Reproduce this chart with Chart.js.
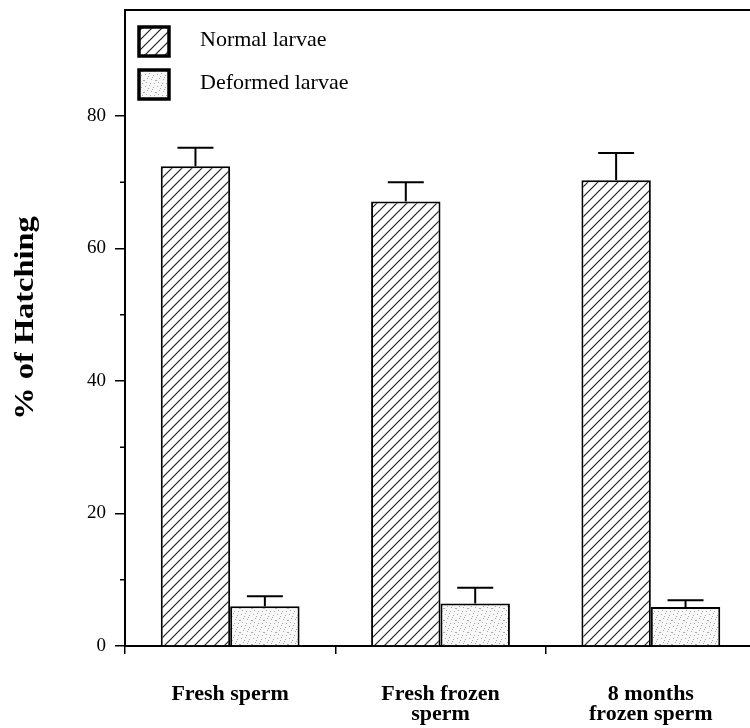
<!DOCTYPE html>
<html>
<head>
<meta charset="utf-8">
<script src="https://cdn.jsdelivr.net/npm/chart.js@4.4.1/dist/chart.umd.min.js"></script>
<style>
  html, body { margin: 0; padding: 0; background: #fff; overflow: hidden; }
  #wrap { width: 757px; height: 728px; }
</style>
</head>
<body>
<div id="wrap"><canvas id="hatchChart"></canvas></div>
<script>
// data
const categories = ['Fresh sperm', ['Fresh frozen', 'sperm'], ['8 months', 'frozen sperm']];
const normalLarvae = [72.4, 67.1, 70.3];
const normalErr = [2.8, 2.9, 4.1];
const deformedLarvae = [6.0, 6.4, 5.9];
const deformedErr = [1.5, 2.4, 1.0];
const yTicks = [0, 20, 40, 60, 80];
const yMinorTicks = [10, 30, 50, 70];
const yTitle = '% of Hatching';

// hatch pattern for normal larvae
function hatchPattern() {
  const c = document.createElement('canvas');
  c.width = 10; c.height = 10;
  const g = c.getContext('2d');
  g.fillStyle = '#fff';
  g.fillRect(0, 0, 10, 10);
  g.strokeStyle = '#222';
  g.lineWidth = 1.2;
  g.beginPath();
  g.moveTo(-2, 12); g.lineTo(12, -2);
  g.moveTo(-2, 2); g.lineTo(2, -2);
  g.moveTo(8, 12); g.lineTo(12, 8);
  g.stroke();
  return g.createPattern(c, 'repeat');
}

// light stipple for deformed larvae
function stipplePattern() {
  const c = document.createElement('canvas');
  c.width = 12; c.height = 12;
  const g = c.getContext('2d');
  g.fillStyle = '#f8f8f8';
  g.fillRect(0, 0, 12, 12);
  g.fillStyle = '#a8a8a8';
  const dots = [[1,2],[5,1],[9,3],[3,6],[7,7],[11,8],[2,10],[6,11],[10,11],[4,4],[8,5],[0,8]];
  dots.forEach(d => g.fillRect(d[0], d[1], 1, 1));
  return g.createPattern(c, 'repeat');
}

const serif = "'Liberation Serif', 'Times New Roman', serif";

const errorBars = {
  id: 'errorBars',
  afterDatasetsDraw(chart) {
    const ctx = chart.ctx;
    const y = chart.scales.y;
    ctx.save();
    ctx.strokeStyle = '#000';
    ctx.lineWidth = 2;
    chart.data.datasets.forEach((ds, i) => {
      const meta = chart.getDatasetMeta(i);
      meta.data.forEach((bar, j) => {
        const top = y.getPixelForValue(ds.data[j] + ds.errors[j]);
        ctx.beginPath();
        ctx.moveTo(bar.x, bar.y);
        ctx.lineTo(bar.x, top);
        ctx.moveTo(bar.x - 18, top);
        ctx.lineTo(bar.x + 18, top);
        ctx.stroke();
      });
    });
    ctx.restore();
  }
};

const frame = {
  id: 'frame',
  afterDraw(chart) {
    const ctx = chart.ctx;
    const a = chart.chartArea;
    const y = chart.scales.y;
    ctx.save();
    ctx.strokeStyle = '#000';
    ctx.lineWidth = 2;
    // top border
    ctx.beginPath();
    ctx.moveTo(a.left, a.top);
    ctx.lineTo(a.right, a.top);
    ctx.stroke();
    // minor ticks
    ctx.lineWidth = 1.5;
    yMinorTicks.forEach(v => {
      const py = y.getPixelForValue(v);
      ctx.beginPath();
      ctx.moveTo(a.left - 5, py);
      ctx.lineTo(a.left, py);
      ctx.stroke();
    });
    // legend
    chart.data.datasets.forEach((ds, i) => {
      const bx = a.left + 14, by = a.top + 17 + i * 43;
      ctx.fillStyle = ds.backgroundColor;
      ctx.fillRect(bx, by, 30, 29);
      ctx.lineWidth = 3.5;
      ctx.strokeRect(bx, by, 30, 29);
      ctx.fillStyle = '#000';
      ctx.font = '22px ' + serif;
      ctx.textBaseline = 'alphabetic';
      ctx.fillText(ds.label, a.left + 75, by + 19);
    });
    // y axis title
    ctx.translate(26, 318);
    ctx.rotate(-Math.PI / 2);
    ctx.scale(1.2, 1);
    ctx.font = 'bold 27px ' + serif;
    ctx.textAlign = 'center';
    ctx.textBaseline = 'middle';
    ctx.fillText(yTitle, 0, 0);
    ctx.restore();
  }
};

new Chart(document.getElementById('hatchChart'), {
  type: 'bar',
  data: {
    labels: categories,
    datasets: [{
      label: 'Normal larvae',
      data: normalLarvae,
      errors: normalErr,
      backgroundColor: hatchPattern(),
      borderColor: '#000',
      borderWidth: 2,
      borderSkipped: 'bottom'
    }, {
      label: 'Deformed larvae',
      data: deformedLarvae,
      errors: deformedErr,
      backgroundColor: stipplePattern(),
      borderColor: '#000',
      borderWidth: 2,
      borderSkipped: 'bottom'
    }]
  },
  options: {
    responsive: true,
    maintainAspectRatio: false,
    animation: false,
    layout: { padding: { top: 10, right: 1, left: 0, bottom: 0 } },
    plugins: {
      legend: { display: false },
      tooltip: { enabled: false }
    },
    datasets: {
      bar: { categoryPercentage: 0.66, barPercentage: 1.0 }
    },
    scales: {
      x: {
        afterFit(s) { s.height = 82; s.paddingLeft = 0; s.paddingRight = 0; },
        grid: {
          drawOnChartArea: false,
          color: '#000',
          lineWidth: 1.5,
          tickLength: 8,
          offset: true
        },
        border: { color: '#000', width: 2 },
        ticks: {
          color: '#000',
          padding: 30,
          maxRotation: 0,
          font: { family: serif, size: 22, weight: 'bold', lineHeight: 0.93 }
        }
      },
      y: {
        min: 0,
        max: 96,
        afterFit(s) { s.width = 125; s.paddingTop = 0; s.paddingBottom = 0; },
        afterBuildTicks(s) { s.ticks = yTicks.map(v => ({ value: v })); },
        grid: {
          drawOnChartArea: false,
          color: '#000',
          lineWidth: 1.5,
          tickLength: 10
        },
        border: { color: '#000', width: 2 },
        ticks: {
          color: '#000',
          padding: 9,
          font: { family: serif, size: 19 }
        }
      }
    }
  },
  plugins: [errorBars, frame]
});
</script>
</body>
</html>
